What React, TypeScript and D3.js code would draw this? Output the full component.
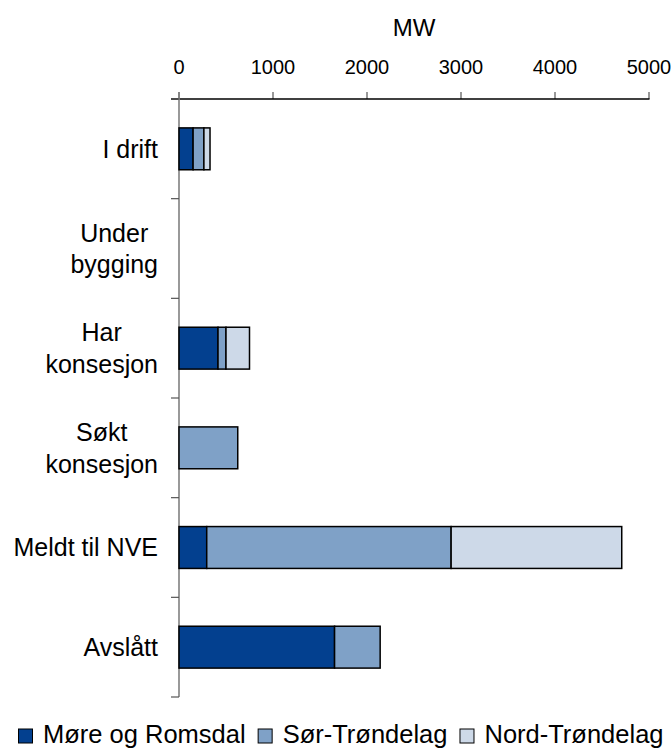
import React from "react";
import * as d3 from "d3";

// Capacity by project status, MW, split by county
const categories: string[][] = [
  ["I drift"],
  ["Under", "bygging"],
  ["Har", "konsesjon"],
  ["Søkt", "konsesjon"],
  ["Meldt til NVE"],
  ["Avslått"],
];
const counties = ["Møre og Romsdal", "Sør-Trøndelag", "Nord-Trøndelag"];
const moreOgRomsdal = [150, 0, 415, 0, 295, 1655];
const sorTrondelag = [115, 0, 85, 625, 2600, 485];
const nordTrondelag = [65, 0, 250, 0, 1815, 0];
const xTicks = [0, 1000, 2000, 3000, 4000, 5000];
const axisTitle = "MW";

const colors = ["#03408f", "#7fa1c7", "#cdd9e8"];
const FONT = "'Liberation Sans', Arial, Helvetica, sans-serif";

const W = 672;
const H = 749;

let measureCtx: CanvasRenderingContext2D | null = null;
function textWidth(s: string, size: number): number {
  if (!measureCtx) measureCtx = document.createElement("canvas").getContext("2d");
  if (!measureCtx) return s.length * size * 0.55;
  measureCtx.font = `${size}px ${FONT}`;
  return measureCtx.measureText(s).width;
}

export default function App() {
  const keys = categories.map((c) => c.join(" "));
  const rows = keys.map((k, i) => ({
    key: k,
    [counties[0]]: moreOgRomsdal[i],
    [counties[1]]: sorTrondelag[i],
    [counties[2]]: nordTrondelag[i],
  }));
  const stacked = d3.stack<any>().keys(counties)(rows);

  const x = d3.scaleLinear().domain([0, 5000]).range([179, 649]);
  const y = d3
    .scaleBand<string>()
    .domain(keys)
    .range([99, 697])
    .paddingInner(0.58)
    .paddingOuter(0.29);
  const step = y.step();
  const y0 = 99;

  const labelSize = 25;
  const labelRight = 158;
  const lineGap = 31.6;
  const capHalf = labelSize * 0.716 / 2;

  const legendSize = 25.5;
  const legendItems: { x: number; color: string; label: string }[] = [];
  let lx = 18;
  counties.forEach((c, i) => {
    legendItems.push({ x: lx, color: colors[i], label: c });
    lx += 25 + textWidth(c, legendSize) + 12;
  });

  return (
    <svg
      width={W}
      height={H}
      style={{ position: "absolute", left: 0, top: 0, background: "#fff" }}
      fontFamily={FONT}
    >
      {/* axis title */}
      <text x={(x(0) + x(5000)) / 2} y={36} textAnchor="middle" fontSize={24} fill="#000">
        {axisTitle}
      </text>

      {/* top value axis */}
      {xTicks.map((t) => (
        <g key={t}>
          <line x1={x(t)} x2={x(t)} y1={92} y2={y0} stroke="#555" strokeWidth={1.2} />
          <text x={x(t)} y={74} textAnchor="middle" fontSize={20} fill="#000">
            {t}
          </text>
        </g>
      ))}
      <line x1={171} x2={x(5000) + 0.5} y1={y0} y2={y0} stroke="#000" strokeWidth={1.3} />

      {/* category axis */}
      <line x1={x(0)} x2={x(0)} y1={92} y2={697} stroke="#808080" strokeWidth={1.6} />
      {d3.range(categories.length + 1).map((i) => (
        <line
          key={i}
          x1={171}
          x2={x(0)}
          y1={y0 + i * step}
          y2={y0 + i * step}
          stroke="#555"
          strokeWidth={1.2}
        />
      ))}

      {/* category labels */}
      {categories.map((lines, i) => {
        const cy = (y(keys[i]) as number) + y.bandwidth() / 2;
        const maxW = d3.max(lines, (l) => textWidth(l, labelSize)) as number;
        const cx = labelRight - maxW / 2;
        const first = cy - ((lines.length - 1) * lineGap) / 2 + capHalf;
        return (
          <text key={i} x={cx} textAnchor="middle" fontSize={labelSize} fill="#000">
            {lines.map((l, j) => (
              <tspan key={j} x={cx} y={first + j * lineGap}>
                {l}
              </tspan>
            ))}
          </text>
        );
      })}

      {/* stacked bars */}
      {stacked.map((series, si) => (
        <g key={series.key} fill={colors[si]} stroke="#000" strokeWidth={1.5}>
          {series.map((d, i) =>
            d[1] - d[0] > 0 ? (
              <rect
                key={i}
                x={x(d[0])}
                y={y(keys[i])}
                width={x(d[1]) - x(d[0])}
                height={y.bandwidth()}
              />
            ) : null
          )}
        </g>
      ))}

      {/* legend */}
      {legendItems.map((it) => (
        <g key={it.label}>
          <rect x={it.x + 0.5} y={729} width={14} height={14} fill={it.color} stroke="#000" strokeWidth={1} />
          <text x={it.x + 25} y={743.3} fontSize={legendSize} fill="#000">
            {it.label}
          </text>
        </g>
      ))}
    </svg>
  );
}
